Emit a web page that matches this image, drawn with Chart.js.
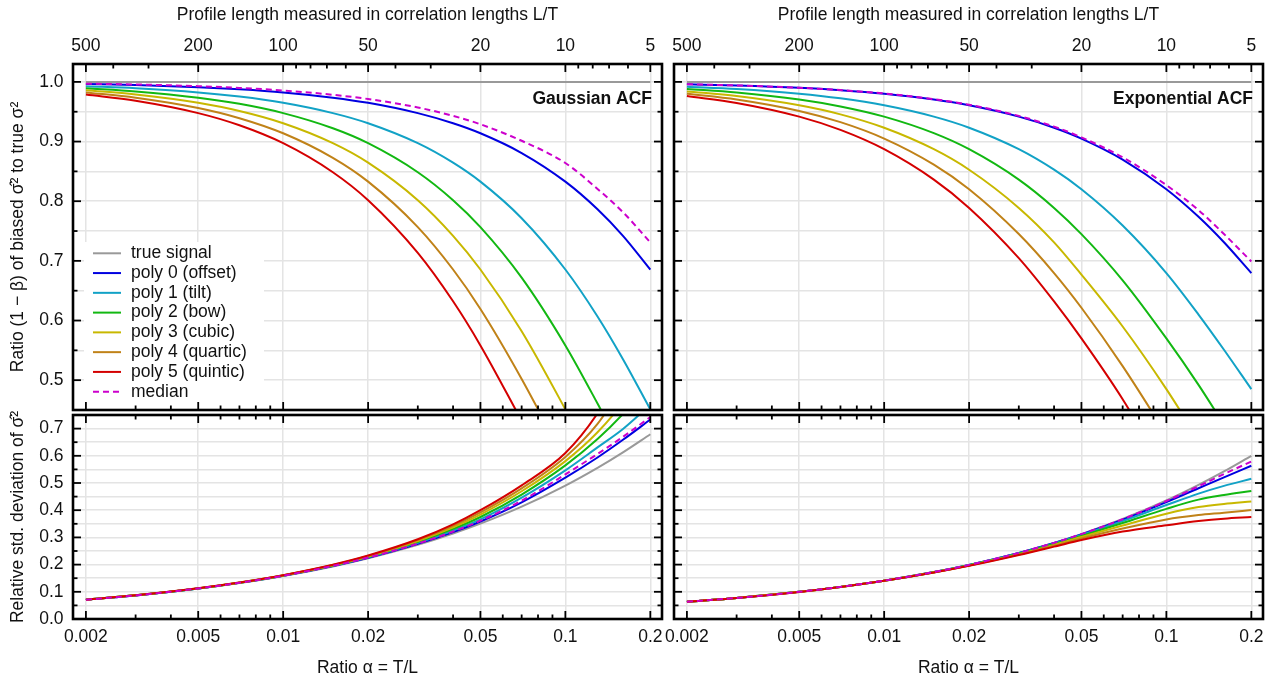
<!DOCTYPE html>
<html lang="en">
<head>
<meta charset="UTF-8">
<title>Bias of variance estimates</title>
<script src="https://cdn.jsdelivr.net/npm/chart.js"></script>
<style>
  body { margin: 0; background: #fff; }
  #wrap { position: relative; width: 1280px; height: 682px; }
  #wrap canvas { position: absolute; left: 0; top: 0; }
</style>
</head>
<body>
<div id="wrap">
  <canvas id="gaussRatio" width="1280" height="682"></canvas>
  <canvas id="expRatio" width="1280" height="682"></canvas>
  <canvas id="gaussStd" width="1280" height="682"></canvas>
  <canvas id="expStd" width="1280" height="682"></canvas>
</div>
<script>
// ---- data ----
const alpha = [0.002, 0.003, 0.005, 0.007, 0.01, 0.015, 0.02, 0.03, 0.04, 0.05, 0.07, 0.1, 0.13, 0.16, 0.2];
const seriesLabels = ['true signal', 'poly 0 (offset)', 'poly 1 (tilt)', 'poly 2 (bow)', 'poly 3 (cubic)', 'poly 4 (quartic)', 'poly 5 (quintic)', 'median'];

const alphaMajor = [0.002, 0.005, 0.01, 0.02, 0.05, 0.1, 0.2];
const alphaMinor = [0.003, 0.004, 0.006, 0.007, 0.008, 0.009, 0.03, 0.04, 0.06, 0.07, 0.08, 0.09];
const lengthMajor = [500, 200, 100, 50, 20, 10, 5];
const lengthMinor = [400, 300, 90, 80, 70, 60, 40, 30, 9, 8, 7, 6];
const ratioTicks = [0.5, 0.6, 0.7, 0.8, 0.9, 1.0];
const ratioMinor = [0.55, 0.65, 0.75, 0.85, 0.95];
const stdTicks = [0, 0.1, 0.2, 0.3, 0.4, 0.5, 0.6, 0.7];
const stdMinor = [0.05, 0.15, 0.25, 0.35, 0.45, 0.55, 0.65];

// ratio (1 - beta), Gaussian ACF
const ratioTrue   = [1, 1, 1, 1, 1, 1, 1, 1, 1, 1, 1, 1, 1, 1, 1];
const gaussP0     = [0.9965, 0.9947, 0.9912, 0.9876, 0.9824, 0.9736, 0.9650, 0.9477, 0.9307, 0.9139, 0.8808, 0.8328, 0.7865, 0.7420, 0.6855];
const gaussP1     = [0.9929, 0.9894, 0.9824, 0.9754, 0.9650, 0.9477, 0.9307, 0.8973, 0.8646, 0.8328, 0.7715, 0.6855, 0.6068, 0.5352, 0.4510];
const gaussP2     = [0.9894, 0.9841, 0.9736, 0.9632, 0.9477, 0.9223, 0.8973, 0.8486, 0.8017, 0.7566, 0.6719, 0.5583, 0.4608, 0.3796, null];
const gaussP3     = [0.9859, 0.9789, 0.9650, 0.9512, 0.9307, 0.8973, 0.8646, 0.8017, 0.7420, 0.6855, 0.5821, 0.4510, 0.3487, null, null];
const gaussP4     = [0.9824, 0.9736, 0.9563, 0.9392, 0.9139, 0.8727, 0.8328, 0.7566, 0.6855, 0.6194, 0.5021, 0.3638, null, null, null];
const gaussP5     = [0.9789, 0.9684, 0.9477, 0.9273, 0.8973, 0.8486, 0.8017, 0.7134, 0.6322, 0.5583, 0.4320, null, null, null, null];
const gaussMedian = [0.9971, 0.9957, 0.9928, 0.9899, 0.9856, 0.9784, 0.9713, 0.9571, 0.9430, 0.9290, 0.9013, 0.8640, 0.8206, 0.7816, 0.7310];

// ratio (1 - beta), exponential ACF
const expP0     = [0.9960, 0.9940, 0.9901, 0.9861, 0.9802, 0.9705, 0.9608, 0.9418, 0.9232, 0.9050, 0.8698, 0.8200, 0.7738, 0.7311, 0.6795];
const expP1     = [0.9920, 0.9881, 0.9802, 0.9724, 0.9608, 0.9418, 0.9232, 0.8872, 0.8528, 0.8200, 0.7592, 0.6795, 0.6100, 0.5510, 0.4850];
const expP2     = [0.9881, 0.9822, 0.9705, 0.9589, 0.9418, 0.9141, 0.8872, 0.8362, 0.7888, 0.7449, 0.6674, 0.5700, 0.4922, 0.4255, null];
const expP3     = [0.9841, 0.9763, 0.9608, 0.9456, 0.9232, 0.8872, 0.8528, 0.7888, 0.7311, 0.6770, 0.5900, 0.4850, 0.4000, null, null];
const expP4     = [0.9802, 0.9705, 0.9513, 0.9325, 0.9050, 0.8613, 0.8200, 0.7449, 0.6795, 0.6214, 0.5236, 0.4090, null, null, null];
const expP5     = [0.9763, 0.9647, 0.9418, 0.9195, 0.8872, 0.8362, 0.7888, 0.7046, 0.6320, 0.5700, 0.4680, 0.3440, null, null, null];
const expMedian = [0.9961, 0.9941, 0.9902, 0.9863, 0.9806, 0.9711, 0.9616, 0.9430, 0.9250, 0.9070, 0.8735, 0.8270, 0.7850, 0.7450, 0.6990];

// relative std. deviation, Gaussian ACF
const gStdTrue   = [0.0708, 0.0867, 0.1118, 0.1323, 0.1580, 0.1933, 0.2230, 0.2726, 0.3141, 0.3505, 0.4130, 0.4906, 0.5558, 0.6128, 0.6792];
const gStdP0     = [0.0708, 0.0867, 0.1121, 0.1328, 0.1590, 0.1948, 0.2250, 0.2761, 0.3196, 0.3585, 0.4290, 0.5196, 0.5938, 0.6588, 0.7332];
const gStdP1     = [0.0709, 0.0870, 0.1122, 0.1330, 0.1591, 0.1954, 0.2266, 0.2797, 0.3254, 0.3663, 0.4460, 0.5465, 0.6308, 0.6986, 0.7880];
const gStdP2     = [0.0710, 0.0870, 0.1124, 0.1332, 0.1596, 0.1964, 0.2284, 0.2835, 0.3314, 0.3750, 0.4576, 0.5647, 0.6614, 0.7537, 0.8694];
const gStdP3     = [0.0711, 0.0871, 0.1126, 0.1335, 0.1601, 0.1974, 0.2299, 0.2868, 0.3370, 0.3841, 0.4696, 0.5804, 0.6864, 0.7966, 0.9510];
const gStdP4     = [0.0712, 0.0873, 0.1128, 0.1339, 0.1607, 0.1985, 0.2317, 0.2900, 0.3424, 0.3919, 0.4803, 0.5956, 0.7170, 0.8580, null];
const gStdP5     = [0.0712, 0.0874, 0.1130, 0.1341, 0.1612, 0.1995, 0.2333, 0.2930, 0.3477, 0.3999, 0.4915, 0.6101, 0.7559, 0.9190, null];
const gStdMedian = [0.0708, 0.0867, 0.1122, 0.1330, 0.1592, 0.1953, 0.2258, 0.2774, 0.3216, 0.3615, 0.4350, 0.5316, 0.6068, 0.6698, 0.7422];

// relative std. deviation, exponential ACF
const eStdTrue   = [0.0632, 0.0774, 0.0999, 0.1181, 0.1411, 0.1726, 0.1990, 0.2431, 0.2800, 0.3122, 0.3676, 0.4359, 0.4931, 0.5426, 0.6000];
const eStdP0     = [0.0632, 0.0774, 0.0999, 0.1181, 0.1411, 0.1725, 0.1989, 0.2430, 0.2796, 0.3113, 0.3650, 0.4298, 0.4807, 0.5209, 0.5634];
const eStdP1     = [0.0632, 0.0774, 0.0999, 0.1181, 0.1409, 0.1722, 0.1984, 0.2419, 0.2780, 0.3091, 0.3602, 0.4189, 0.4610, 0.4894, 0.5155];
const eStdP2     = [0.0632, 0.0774, 0.0998, 0.1180, 0.1408, 0.1720, 0.1978, 0.2404, 0.2755, 0.3054, 0.3529, 0.4050, 0.4388, 0.4558, 0.4710];
const eStdP3     = [0.0632, 0.0774, 0.0998, 0.1179, 0.1407, 0.1716, 0.1970, 0.2385, 0.2724, 0.3013, 0.3437, 0.3871, 0.4117, 0.4232, 0.4320];
const eStdP4     = [0.0632, 0.0773, 0.0997, 0.1178, 0.1405, 0.1712, 0.1962, 0.2368, 0.2691, 0.2960, 0.3326, 0.3662, 0.3821, 0.3907, 0.4008];
const eStdP5     = [0.0632, 0.0773, 0.0997, 0.1177, 0.1404, 0.1708, 0.1954, 0.2351, 0.2660, 0.2904, 0.3216, 0.3444, 0.3600, 0.3690, 0.3750];
const eStdMedian = [0.0632, 0.0774, 0.0999, 0.1181, 0.1411, 0.1726, 0.1990, 0.2431, 0.2800, 0.3122, 0.3668, 0.4337, 0.4882, 0.5328, 0.5790];

// ---- styles and layout ----
const seriesColors = ['#999999', '#0000e0', '#12a2c6', '#12b812', '#c8b800', '#c08218', '#d40000', '#cc00cc'];
const FONT = '"Liberation Sans", Arial, Helvetica, sans-serif';
const FS = 17.5;
const gridColor = '#e4e4e4';
const cols = { left: { l: 73, r: 662 }, right: { l: 674, r: 1263 } };
const rows = { top: { t: 64, b: 410 }, bottom: { t: 415, b: 619 } };

Chart.defaults.font.family = FONT;
Chart.defaults.font.size = FS;
Chart.defaults.color = '#111';

const legendPlugin = {
  id: 'boxLegend',
  afterDatasetsDraw(chart, args, o) {
    if (!o.show) return;
    const { ctx, chartArea: a } = chart;
    ctx.save();
    ctx.fillStyle = '#fff';
    ctx.fillRect(a.left + 11, 242, 180, a.bottom - 242);
    ctx.font = FS + 'px ' + FONT;
    ctx.textBaseline = 'middle';
    chart.data.datasets.forEach((ds, i) => {
      const yy = 253.3 + i * 19.77;
      ctx.strokeStyle = ds.borderColor;
      ctx.lineWidth = 2;
      ctx.setLineDash(ds.borderDash || []);
      ctx.beginPath();
      ctx.moveTo(a.left + 20, yy);
      ctx.lineTo(a.left + 48, yy);
      ctx.stroke();
      ctx.setLineDash([]);
      ctx.fillStyle = '#111';
      ctx.fillText(ds.label, a.left + 58, yy);
    });
    ctx.restore();
  }
};

const framePlugin = {
  id: 'frame',
  afterDatasetsDraw(chart, args, o) {
    const { ctx, chartArea: a } = chart;
    const xs = chart.scales.x, ys = chart.scales.y;
    const mark = (x1, y1, x2, y2) => { ctx.beginPath(); ctx.moveTo(x1, y1); ctx.lineTo(x2, y2); ctx.stroke(); };
    ctx.save();
    ctx.strokeStyle = '#000';
    ctx.lineWidth = 1.8;
    const xMarks = (vals, len, top, bottom) => vals.forEach(v => {
      const p = xs.getPixelForValue(v);
      if (bottom) mark(p, a.bottom, p, a.bottom - len);
      if (top) mark(p, a.top, p, a.top + len);
    });
    xMarks(alphaMajor, 8, !o.lengthTop, true);
    xMarks(alphaMinor, 4.5, !o.lengthTop, true);
    if (o.lengthTop) {
      xMarks(lengthMajor.map(L => 1 / L), 8, true, false);
      xMarks(lengthMinor.map(L => 1 / L), 4.5, true, false);
    }
    const yMarks = (vals, len) => vals.forEach(v => {
      const p = ys.getPixelForValue(v);
      mark(a.left, p, a.left + len, p);
      mark(a.right, p, a.right - len, p);
    });
    yMarks(o.yMajor, 8);
    yMarks(o.yMinor, 4.5);
    ctx.lineWidth = 2.6;
    ctx.strokeRect(a.left, a.top, a.right - a.left, a.bottom - a.top);
    if (o.label) {
      ctx.font = 'bold ' + FS + 'px ' + FONT;
      ctx.fillStyle = '#111';
      ctx.textAlign = 'right';
      ctx.textBaseline = 'middle';
      ctx.fillText(o.label, a.right - 10, 99);
    }
    ctx.restore();
  }
};

function lines(seriesList) {
  return seriesList.map((vals, i) => ({
    label: seriesLabels[i],
    data: alpha.map((a, j) => ({ x: a, y: vals[j] })).filter(p => p.y !== null),
    borderColor: seriesColors[i],
    borderWidth: 2,
    borderDash: i === 7 ? [6, 4] : [],
    pointRadius: 0,
    fill: false,
    cubicInterpolationMode: 'monotone',
    order: 7 - i
  }));
}

function isTenth(v) { return Math.abs(v * 10 - Math.round(v * 10)) < 1e-6; }

function makePanel(id, col, row, seriesList, yMin, yMax, yMajor, yMinor, yTitle, label, withLegend) {
  const c = cols[col], r = rows[row];
  const scales = {
    x: {
      type: 'logarithmic', position: 'bottom', min: 0.0018, max: 0.22,
      afterBuildTicks: s => { s.ticks = alphaMajor.map(v => ({ value: v })); },
      afterFit: s => { s.height = row === 'bottom' ? 682 - r.b : 0; s.paddingLeft = 0; s.paddingRight = 0; },
      grid: { color: gridColor, lineWidth: 1.5, drawTicks: false },
      border: { display: false },
      ticks: { display: row === 'bottom', autoSkip: false, maxRotation: 0, minRotation: 0, padding: 7.5, callback: v => String(v) },
      title: { display: row === 'bottom', text: 'Ratio α = T/L', padding: { top: 0, bottom: 3.5 } }
    },
    y: {
      type: 'linear', position: 'left', min: yMin, max: yMax,
      afterBuildTicks: s => { s.ticks = yMajor.concat(yMinor).sort((p, q) => p - q).map(v => ({ value: v })); },
      afterFit: s => { s.width = col === 'left' ? c.l : 0; s.paddingTop = 0; s.paddingBottom = 0; },
      grid: { color: gridColor, lineWidth: 1.5, drawTicks: false },
      border: { display: false },
      ticks: { display: col === 'left', autoSkip: false, padding: 9.5, callback: v => isTenth(v) ? v.toFixed(1) : '' },
      title: { display: col === 'left', text: yTitle, padding: { top: 7.5, bottom: 0 } }
    }
  };
  if (row === 'top') {
    scales.xt = {
      type: 'logarithmic', position: 'top', min: 0.0018, max: 0.22,
      afterBuildTicks: s => { s.ticks = lengthMajor.map(L => ({ value: 1 / L })); },
      afterFit: s => { s.height = r.t; s.paddingLeft = 0; s.paddingRight = 0; },
      grid: { display: false, drawTicks: false },
      border: { display: false },
      ticks: { autoSkip: false, maxRotation: 0, minRotation: 0, padding: 7.5, callback: v => String(Math.round(1 / v)) },
      title: { display: true, text: 'Profile length measured in correlation lengths L/T', padding: { top: 4.5, bottom: 0 } }
    };
  }
  return new Chart(document.getElementById(id), {
    type: 'line',
    data: { datasets: lines(seriesList) },
    plugins: [legendPlugin, framePlugin],
    options: {
      responsive: false,
      animation: false,
      devicePixelRatio: 1,
      events: [],
      layout: {
        padding: {
          left: col === 'left' ? 0 : c.l,
          right: 1280 - c.r,
          top: row === 'top' ? 0 : r.t,
          bottom: row === 'top' ? 682 - r.b : 0
        }
      },
      scales: scales,
      plugins: {
        legend: { display: false },
        tooltip: { enabled: false },
        boxLegend: { show: withLegend },
        frame: { lengthTop: row === 'top', yMajor: yMajor, yMinor: yMinor, label: label }
      }
    }
  });
}

const ratioTitle = 'Ratio (1 − β) of biased σ̂² to true σ²';
const stdTitle = 'Relative std. deviation of σ̂²';

makePanel('gaussRatio', 'left', 'top',
  [ratioTrue, gaussP0, gaussP1, gaussP2, gaussP3, gaussP4, gaussP5, gaussMedian],
  0.45, 1.03, ratioTicks, ratioMinor, ratioTitle, 'Gaussian ACF', true);
makePanel('expRatio', 'right', 'top',
  [ratioTrue, expP0, expP1, expP2, expP3, expP4, expP5, expMedian],
  0.45, 1.03, ratioTicks, ratioMinor, ratioTitle, 'Exponential ACF', false);
makePanel('gaussStd', 'left', 'bottom',
  [gStdTrue, gStdP0, gStdP1, gStdP2, gStdP3, gStdP4, gStdP5, gStdMedian],
  0, 0.75, stdTicks, stdMinor, stdTitle, '', false);
makePanel('expStd', 'right', 'bottom',
  [eStdTrue, eStdP0, eStdP1, eStdP2, eStdP3, eStdP4, eStdP5, eStdMedian],
  0, 0.75, stdTicks, stdMinor, stdTitle, '', false);
</script>
</body>
</html>
